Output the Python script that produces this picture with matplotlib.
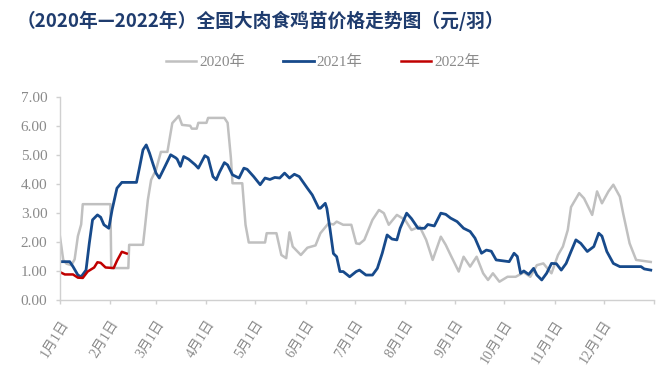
import matplotlib
matplotlib.use("Agg")
import matplotlib.pyplot as plt

# day of year (0 = Jan 1) and price (yuan per chick)
days_2020 = [0, 2, 4, 7, 9, 11, 13, 14, 31, 31.5, 42, 42.5, 51, 52, 54, 56, 59, 62, 66, 69,
             73, 75, 80, 81, 84, 85, 90, 91, 101, 103, 105, 106, 112, 114, 116, 126, 127,
             133, 136, 139, 141, 143, 148, 152, 157, 160, 165, 168, 170, 174, 179, 182, 184,
             187, 192, 196, 199, 202, 207, 212, 216, 221, 225, 229, 234, 237, 240, 245, 248,
             252, 256, 260, 263, 266, 270, 275, 280, 285, 289, 293, 297, 302, 306, 309, 312,
             314, 319, 322, 327, 330, 333, 337, 340, 344, 346, 350, 354, 363]
price_2020 = [2.18, 1.38, 1.25, 1.2, 1.4, 2.2, 2.6, 3.3, 3.3, 1.1, 1.1, 1.9, 1.9, 2.4, 3.45,
              4.14, 4.48, 5.1, 5.1, 6.09, 6.34, 6.03, 6.0, 5.9, 5.9, 6.1, 6.1, 6.27, 6.27, 6.1,
              4.9, 4.02, 4.02, 2.59, 1.98, 1.98, 2.3, 2.3, 1.55, 1.44, 2.33, 1.84, 1.55, 1.8,
              1.88, 2.3, 2.64, 2.6, 2.7, 2.59, 2.59, 1.95, 1.93, 2.07, 2.76, 3.1, 2.99, 2.59,
              2.93, 2.76, 2.41, 2.53, 2.07, 1.38, 2.18, 1.9, 1.55, 0.98, 1.49, 1.15, 1.49, 0.92,
              0.69, 0.92, 0.63, 0.8, 0.8, 0.95, 0.8, 1.2, 1.26, 0.92, 1.55, 1.84, 2.41, 3.2,
              3.68, 3.5, 2.93, 3.74, 3.33, 3.74, 3.97, 3.56, 2.99, 1.95, 1.38, 1.31]

days_2021 = [0, 6, 8, 11, 13, 16, 18, 20, 23, 25, 27, 30, 32, 35, 38, 47, 49, 51, 53, 55, 57,
             59, 61, 64, 68, 71, 72, 74, 76, 79, 83, 85, 89, 91, 94, 96, 98, 101, 103, 106,
             110, 113, 115, 119, 123, 126, 129, 132, 135, 138, 141, 144, 147, 152, 155, 159,
             160, 163, 164, 166, 168, 170, 172, 174, 178, 182, 184, 188, 192, 195, 198, 201,
             204, 207, 209, 213, 216, 220, 224, 226, 230, 234, 237, 240, 244, 248, 252, 255,
             259, 262, 265, 268, 276, 279, 281, 283, 285, 288, 291, 293, 296, 299, 302, 305,
             308, 311, 314, 317, 320, 324, 328, 331, 333, 336, 340, 344, 357, 359, 363]
price_2021 = [1.32, 1.32, 1.15, 0.86, 0.8, 1.03, 1.95, 2.76, 2.93, 2.85, 2.59, 2.47, 3.1,
              3.85, 4.05, 4.05, 4.6, 5.17, 5.34, 5.06, 4.71, 4.37, 4.2, 4.54, 5.0, 4.9, 4.85,
              4.6, 4.94, 4.85, 4.66, 4.54, 4.97, 4.9, 4.25, 4.14, 4.4, 4.73, 4.65, 4.31, 4.2,
              4.54, 4.5, 4.25, 3.97, 4.2, 4.15, 4.22, 4.2, 4.37, 4.2, 4.33, 4.25, 3.85, 3.62,
              3.16, 3.16, 3.33, 3.15, 2.41, 1.6, 1.49, 0.98, 0.98, 0.8, 0.98, 1.03, 0.86, 0.86,
              1.09, 1.61, 2.24, 2.1, 2.07, 2.47, 2.99, 2.8, 2.47, 2.47, 2.6, 2.55, 2.99, 2.95,
              2.82, 2.7, 2.47, 2.36, 2.13, 1.61, 1.72, 1.68, 1.38, 1.32, 1.61, 1.5, 0.92, 1.0,
              0.88, 1.09, 0.86, 0.69, 0.92, 1.26, 1.25, 1.03, 1.26, 1.67, 2.07, 1.95, 1.67,
              1.84, 2.3, 2.2, 1.67, 1.26, 1.15, 1.15, 1.07, 1.03]

days_2022 = [0, 3, 8, 11, 14, 17, 21, 23, 25, 28, 33, 35, 38, 41]
price_2022 = [0.96, 0.88, 0.88, 0.77, 0.76, 0.98, 1.12, 1.3, 1.28, 1.12, 1.1, 1.35, 1.66, 1.6]

month_starts = [0, 31, 59, 90, 120, 151, 181, 212, 243, 273, 304, 334, 365]
month_labels = ["1月1日", "2月1日", "3月1日", "4月1日", "5月1日", "6月1日", "7月1日",
                "8月1日", "9月1日", "10月1日", "11月1日", "12月1日", ""]

serif_cjk = ["Liberation Serif", "Noto Sans CJK SC"]
label_grey = "#8a8a8a"
spine_grey = "#d0d0d0"

fig = plt.figure(figsize=(6.71, 3.76), dpi=100)
ax = fig.add_axes([0.0894, 0.2021, 0.8853, 0.5407])

ax.plot(days_2020, price_2020, color="#c0c0c0", lw=1.8, label="2020年")
ax.plot(days_2021, price_2021, color="#174a8b", lw=2.0, label="2021年")
ax.plot(days_2022, price_2022, color="#c00000", lw=1.8, label="2022年")

ax.set_xlim(0, 365)
ax.set_ylim(0, 7)
ax.set_yticks(range(8))
ax.set_yticklabels([f"{v:.2f}" for v in range(8)], family=serif_cjk, fontsize=11,
                   color=label_grey)
ax.set_xticks(month_starts)
ax.set_xticklabels(month_labels, rotation=58, ha="right", va="top", rotation_mode="anchor",
                   family=serif_cjk, fontsize=10, color=label_grey)

for side in ["top", "right"]:
    ax.spines[side].set_visible(False)
for side in ["left", "bottom"]:
    ax.spines[side].set_color(spine_grey)
    ax.spines[side].set_linewidth(1.0)
ax.tick_params(axis="both", color=spine_grey, length=3, width=1.0)
ax.tick_params(axis="y", pad=6)
ax.tick_params(axis="x", pad=10)

leg = fig.legend(loc="center", bbox_to_anchor=(0.481, 0.835), ncol=3, frameon=False,
                 prop={"family": serif_cjk, "size": 11}, handlelength=2.0,
                 columnspacing=2.5, handletextpad=0.2)
for t in leg.get_texts():
    t.set_color(label_grey)

fig.text(0.025, 0.945, "（2020年—2022年）全国大肉食鸡苗价格走势图（元/羽）",
         family=["Noto Sans CJK SC", "DejaVu Sans"], fontweight="bold", fontsize=13.5,
         color="#1f3c6e", ha="left", va="center")

fig.savefig("out.png", dpi=100)
